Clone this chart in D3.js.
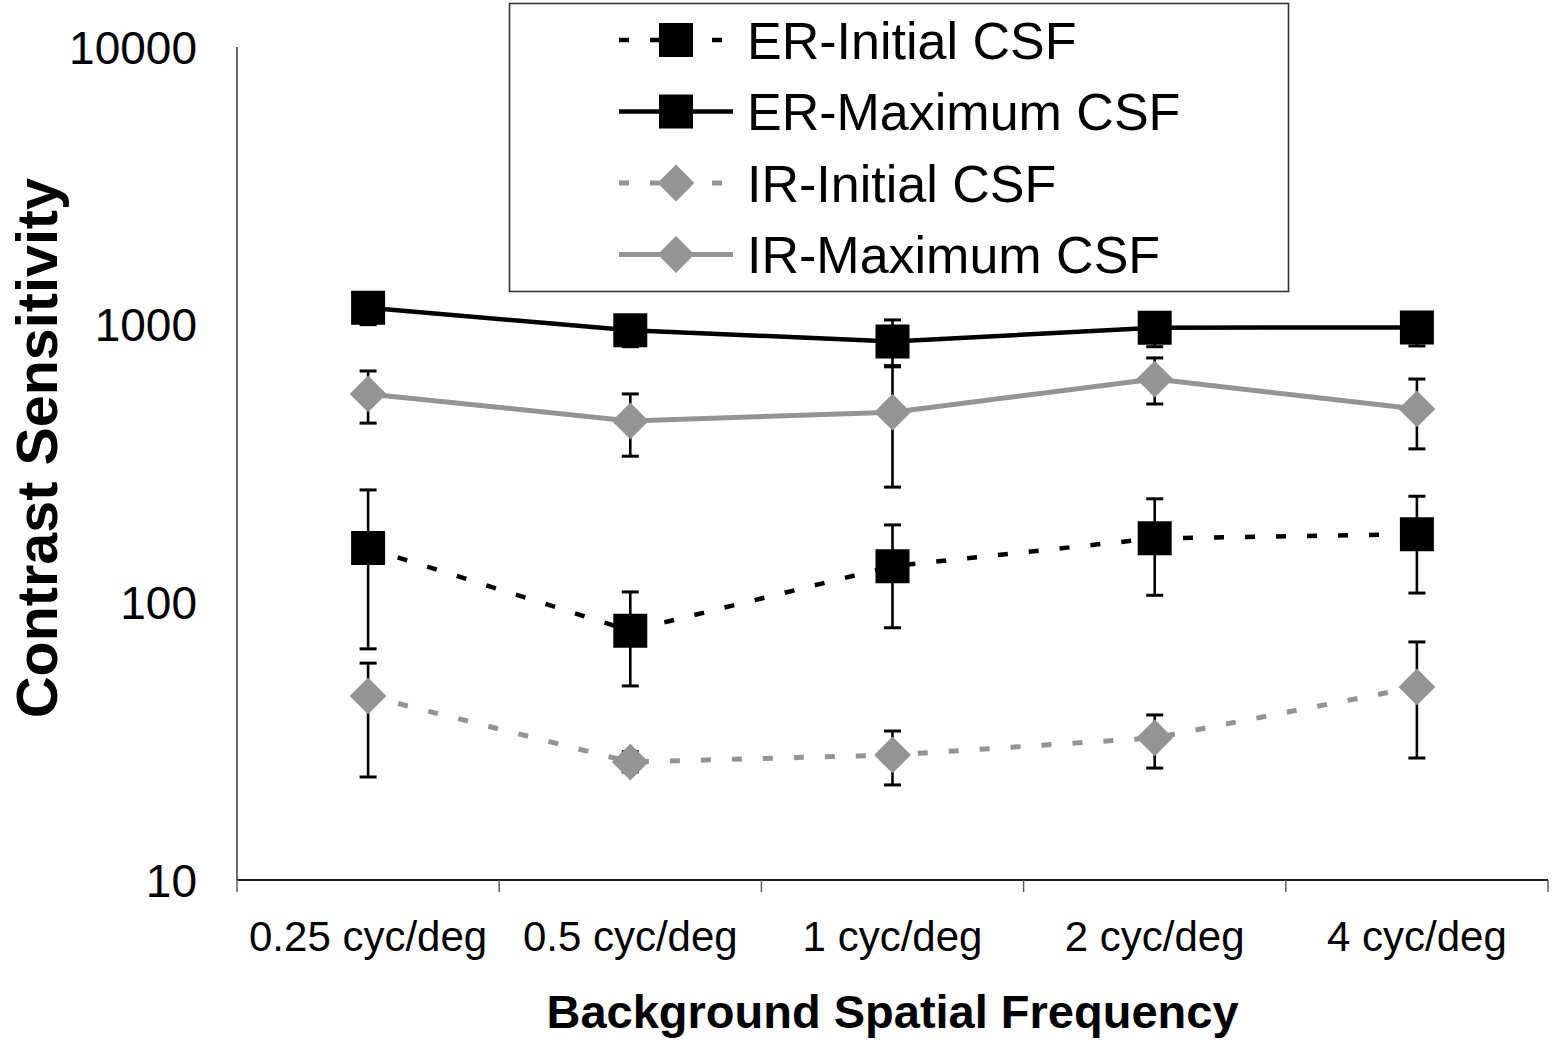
<!DOCTYPE html>
<html>
<head>
<meta charset="utf-8">
<script src="https://cdn.jsdelivr.net/npm/d3@7"></script>
<style>
  html, body { margin: 0; padding: 0; background: #fff; }
  svg { display: block; font-family: "Liberation Sans", Arial, sans-serif; }
</style>
</head>
<body>
<svg id="chart" width="1552" height="1046"></svg>
<script>
// Background spatial frequency conditions
const categories = ["0.25 cyc/deg", "0.5 cyc/deg", "1 cyc/deg", "2 cyc/deg", "4 cyc/deg"];

// Contrast sensitivity means with upper / lower error-bar ends
const erInitial   = [157, 79, 135, 170, 176];
const erInitialHi = [254, 109, 190, 236, 241];
const erInitialLo = [68, 50, 81, 106, 108];

const erMax   = [1150, 955, 870, 975, 977];
const erMaxHi = [1300, 1075, 1040, 1090, 1090];
const erMaxLo = [1000, 833, 712, 833, 838];

const irInitial   = [46, 26.6, 28.2, 32.5, 49.6];
const irInitialHi = [60.4, 29, 34.4, 39.3, 72];
const irInitialLo = [23.5, 24.5, 22, 25.3, 27.5];

const irMax   = [563, 450, 484, 637, 497];
const irMaxHi = [681, 563, 705, 759, 637];
const irMaxLo = [442, 336, 260, 518, 357];

const yTicks = [10, 100, 1000, 10000];

const seriesNames = ["ER-Initial CSF", "ER-Maximum CSF", "IR-Initial CSF", "IR-Maximum CSF"];

const GRAY = "#949494";
const series = [
  { name: seriesNames[0], v: erInitial, hi: erInitialHi, lo: erInitialLo, color: "#000", dash: "10,21", width: 4.5, shape: "square" },
  { name: seriesNames[1], v: erMax,     hi: erMaxHi,     lo: erMaxLo,     color: "#000", dash: null,    width: 4.5, shape: "square" },
  { name: seriesNames[2], v: irInitial, hi: irInitialHi, lo: irInitialLo, color: GRAY,   dash: "10,21", width: 5,   shape: "diamond" },
  { name: seriesNames[3], v: irMax,     hi: irMaxHi,     lo: irMaxLo,     color: GRAY,   dash: null,    width: 5,   shape: "diamond" }
];

const svg = d3.select("#chart");
const plot = { left: 237, right: 1548, top: 47, bottom: 880 };

const x = d3.scaleBand().domain(categories).range([plot.left, plot.right]).padding(0);
const cx = c => x(c) + x.bandwidth() / 2;
const y = d3.scaleLog().domain([10, 10000]).range([plot.bottom, plot.top]);

// Axes lines
svg.append("line")
  .attr("x1", plot.left).attr("x2", plot.left)
  .attr("y1", y(10000)).attr("y2", y(10))
  .attr("stroke", "#444").attr("stroke-width", 1.6);
svg.append("line")
  .attr("x1", plot.left).attr("x2", plot.right)
  .attr("y1", plot.bottom).attr("y2", plot.bottom)
  .attr("stroke", "#222").attr("stroke-width", 1.8);

// Category boundary ticks on the x axis
const boundaries = categories.map(c => x(c)).concat([x.range()[1]]);
svg.append("g").selectAll("line").data(boundaries).join("line")
  .attr("x1", d => d).attr("x2", d => d)
  .attr("y1", plot.bottom).attr("y2", plot.bottom + 12)
  .attr("stroke", "#555").attr("stroke-width", 1.4);

// Y tick labels
svg.append("g").selectAll("text").data(yTicks).join("text")
  .attr("x", 197).attr("y", d => y(d))
  .attr("dy", "0.36em")
  .attr("text-anchor", "end")
  .attr("font-size", 46)
  .attr("fill", "#000")
  .text(d => d3.format("d")(d));

// X tick labels
svg.append("g").selectAll("text").data(categories).join("text")
  .attr("x", d => cx(d)).attr("y", 951)
  .attr("text-anchor", "middle")
  .attr("font-size", 42)
  .attr("fill", "#000")
  .text(d => d);

// Axis titles
svg.append("text")
  .attr("x", (plot.left + plot.right) / 2).attr("y", 1028)
  .attr("text-anchor", "middle")
  .attr("font-size", 47).attr("font-weight", "bold")
  .text("Background Spatial Frequency");
svg.append("text")
  .attr("transform", "translate(57,448) rotate(-90)")
  .attr("text-anchor", "middle")
  .attr("font-size", 57.5).attr("font-weight", "bold")
  .text("Contrast Sensitivity");

// Marker generators
const squareSym = d3.symbol().type(d3.symbolSquare).size(34 * 34);
const diamondSym = d3.symbol().type(d3.symbolSquare).size(26 * 26);
function marker(sel, shape, color) {
  sel.attr("d", shape === "square" ? squareSym() : diamondSym()).attr("fill", color);
}
const markerTransform = (shape, px, py) =>
  shape === "square" ? `translate(${px},${py})` : `translate(${px},${py}) rotate(45)`;

const line = d3.line().x(d => cx(d.c)).y(d => y(d.v));

// Series lines
series.forEach(s => {
  const pts = categories.map((c, i) => ({ c, v: s.v[i] }));
  svg.append("path")
    .datum(pts)
    .attr("d", line)
    .attr("fill", "none")
    .attr("stroke", s.color)
    .attr("stroke-width", s.width)
    .attr("stroke-dasharray", s.dash)
    .attr("stroke-linejoin", "round");
});

// Error bars
series.forEach(s => {
  const g = svg.append("g");
  categories.forEach((c, i) => {
    const px = cx(c);
    g.append("line")
      .attr("x1", px).attr("x2", px)
      .attr("y1", y(s.hi[i])).attr("y2", y(s.lo[i]))
      .attr("stroke", "#000").attr("stroke-width", 2.6);
    [s.hi[i], s.lo[i]].forEach(v => {
      g.append("line")
        .attr("x1", px - 8.5).attr("x2", px + 8.5)
        .attr("y1", y(v)).attr("y2", y(v))
        .attr("stroke", "#000").attr("stroke-width", 3);
    });
  });
});

// Markers
series.forEach(s => {
  svg.append("g").selectAll("path").data(categories).join("path")
    .call(sel => marker(sel, s.shape, s.color))
    .attr("transform", (c, i) => markerTransform(s.shape, cx(c), y(s.v[i])));
});

// Legend
const legend = svg.append("g");
legend.append("rect")
  .attr("x", 509.5).attr("y", 3.5).attr("width", 779).attr("height", 288)
  .attr("fill", "#fff").attr("stroke", "#333").attr("stroke-width", 1.6);
const rowY = [40, 111.5, 183, 254.5];
series.forEach((s, i) => {
  const ry = rowY[i];
  legend.append("line")
    .attr("x1", 619).attr("x2", 733)
    .attr("y1", ry).attr("y2", ry)
    .attr("stroke", s.color).attr("stroke-width", s.width)
    .attr("stroke-dasharray", s.dash);
  legend.append("path")
    .call(sel => marker(sel, s.shape, s.color))
    .attr("transform", markerTransform(s.shape, 676, ry));
  legend.append("text")
    .attr("x", 747).attr("y", ry).attr("dy", "0.36em")
    .attr("font-size", 52)
    .attr("fill", "#000")
    .text(s.name);
});
</script>
</body>
</html>
